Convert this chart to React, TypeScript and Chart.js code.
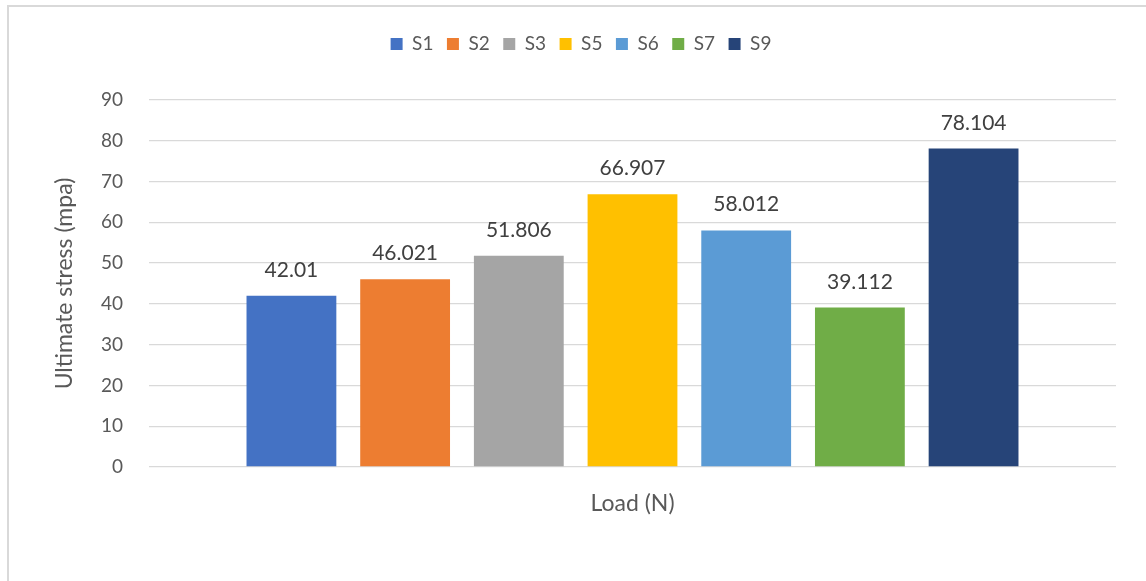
import React, { useEffect, useRef } from "react";
import { Chart, registerables } from "chart.js";

Chart.register(...registerables);

const categories: string[] = [""];
const seriesNames: string[] = ["S1", "S2", "S3", "S5", "S6", "S7", "S9"];
const seriesValues: number[] = [42.01, 46.021, 51.806, 66.907, 58.012, 39.112, 78.104];
const valueLabels: string[] = ["42.01", "46.021", "51.806", "66.907", "58.012", "39.112", "78.104"];
const seriesColors: string[] = ["#4472C4", "#ED7D31", "#A5A5A5", "#FFC000", "#5B9BD5", "#70AD47", "#264478"];
const yTicks = { min: 0, max: 90, step: 10 };

const FONT = "Lato, 'Open Sans', sans-serif";

const legendSpacer = {
  id: "legendSpacer",
  beforeLayout(chart: any) {
    const lg = chart.legend;
    if (lg && !lg._patched) {
      const orig = lg.fit.bind(lg);
      lg.fit = function () {
        orig();
        this.height += 36.5;
      };
      lg._patched = true;
    }
  },
};

const dataLabels = {
  id: "dataLabels",
  afterDatasetsDraw(chart: any) {
    const ctx = chart.ctx;
    ctx.save();
    ctx.font = `21px ${FONT}`;
    ctx.fillStyle = "#404040";
    ctx.textAlign = "center";
    ctx.textBaseline = "alphabetic";
    chart.data.datasets.forEach((ds: any, i: number) => {
      const meta = chart.getDatasetMeta(i);
      meta.data.forEach((bar: any) => {
        ctx.fillText(valueLabels[i], bar.x, bar.y - 19);
      });
    });
    ctx.restore();
  },
};

export default function App() {
  const canvasRef = useRef<HTMLCanvasElement | null>(null);

  useEffect(() => {
    if (!canvasRef.current) return;
    Chart.defaults.font.family = FONT;
    const chart = new Chart(canvasRef.current, {
      type: "bar",
      data: {
        labels: categories,
        datasets: seriesNames.map((name, i) => ({
          label: name,
          data: [seriesValues[i]],
          backgroundColor: seriesColors[i],
          borderWidth: 0,
          categoryPercentage: 0.823,
          barPercentage: 0.79,
        })),
      },
      options: {
        animation: false,
        responsive: false,
        devicePixelRatio: 1,
        layout: { padding: { left: 46, right: 30, top: 21, bottom: 63.2 } },
        plugins: {
          tooltip: { enabled: false },
          legend: {
            position: "top",
            labels: {
              boxWidth: 12,
              boxHeight: 12,
              padding: 13.5,
              color: "#595959",
              font: { size: 19, family: FONT },
            },
          },
        },
        scales: {
          x: {
            grid: { display: false },
            border: { display: false },
            ticks: { display: false },
            title: {
              display: true,
              text: "Load (N)",
              color: "#595959",
              font: { size: 23, family: FONT, lineHeight: 1.2 },
              padding: 0,
            },
            afterFit(scale: any) {
              scale.height = 50.8;
            },
          },
          y: {
            min: yTicks.min,
            max: yTicks.max,
            ticks: {
              stepSize: yTicks.step,
              color: "#595959",
              font: { size: 19, family: FONT },
              padding: 26,
            },
            grid: { color: "#d9d9d9", lineWidth: 1.3, drawTicks: false },
            border: { display: false },
            title: {
              display: true,
              text: "Ultimate stress (mpa)",
              color: "#595959",
              font: { size: 23, family: FONT, lineHeight: 1 },
              padding: { top: 7.5, bottom: 0 },
            },
            afterFit(scale: any) {
              scale.width = 103;
            },
          },
        },
      },
      plugins: [legendSpacer, dataLabels],
    });
    return () => chart.destroy();
  }, []);

  return (
    <div
      style={{
        position: "fixed",
        left: 0,
        top: 0,
        width: 1146,
        height: 581,
        overflow: "hidden",
        background: "#ffffff",
      }}
    >
      <div
        style={{
          position: "absolute",
          left: 7,
          top: 5,
          width: 3000,
          height: 3000,
          borderTop: "2px solid #d9d9d9",
          borderLeft: "2px solid #d9d9d9",
        }}
      />
      <canvas
        ref={canvasRef}
        width={1146}
        height={581}
        style={{ position: "absolute", left: 0, top: 0, width: 1146, height: 581 }}
      />
    </div>
  );
}
